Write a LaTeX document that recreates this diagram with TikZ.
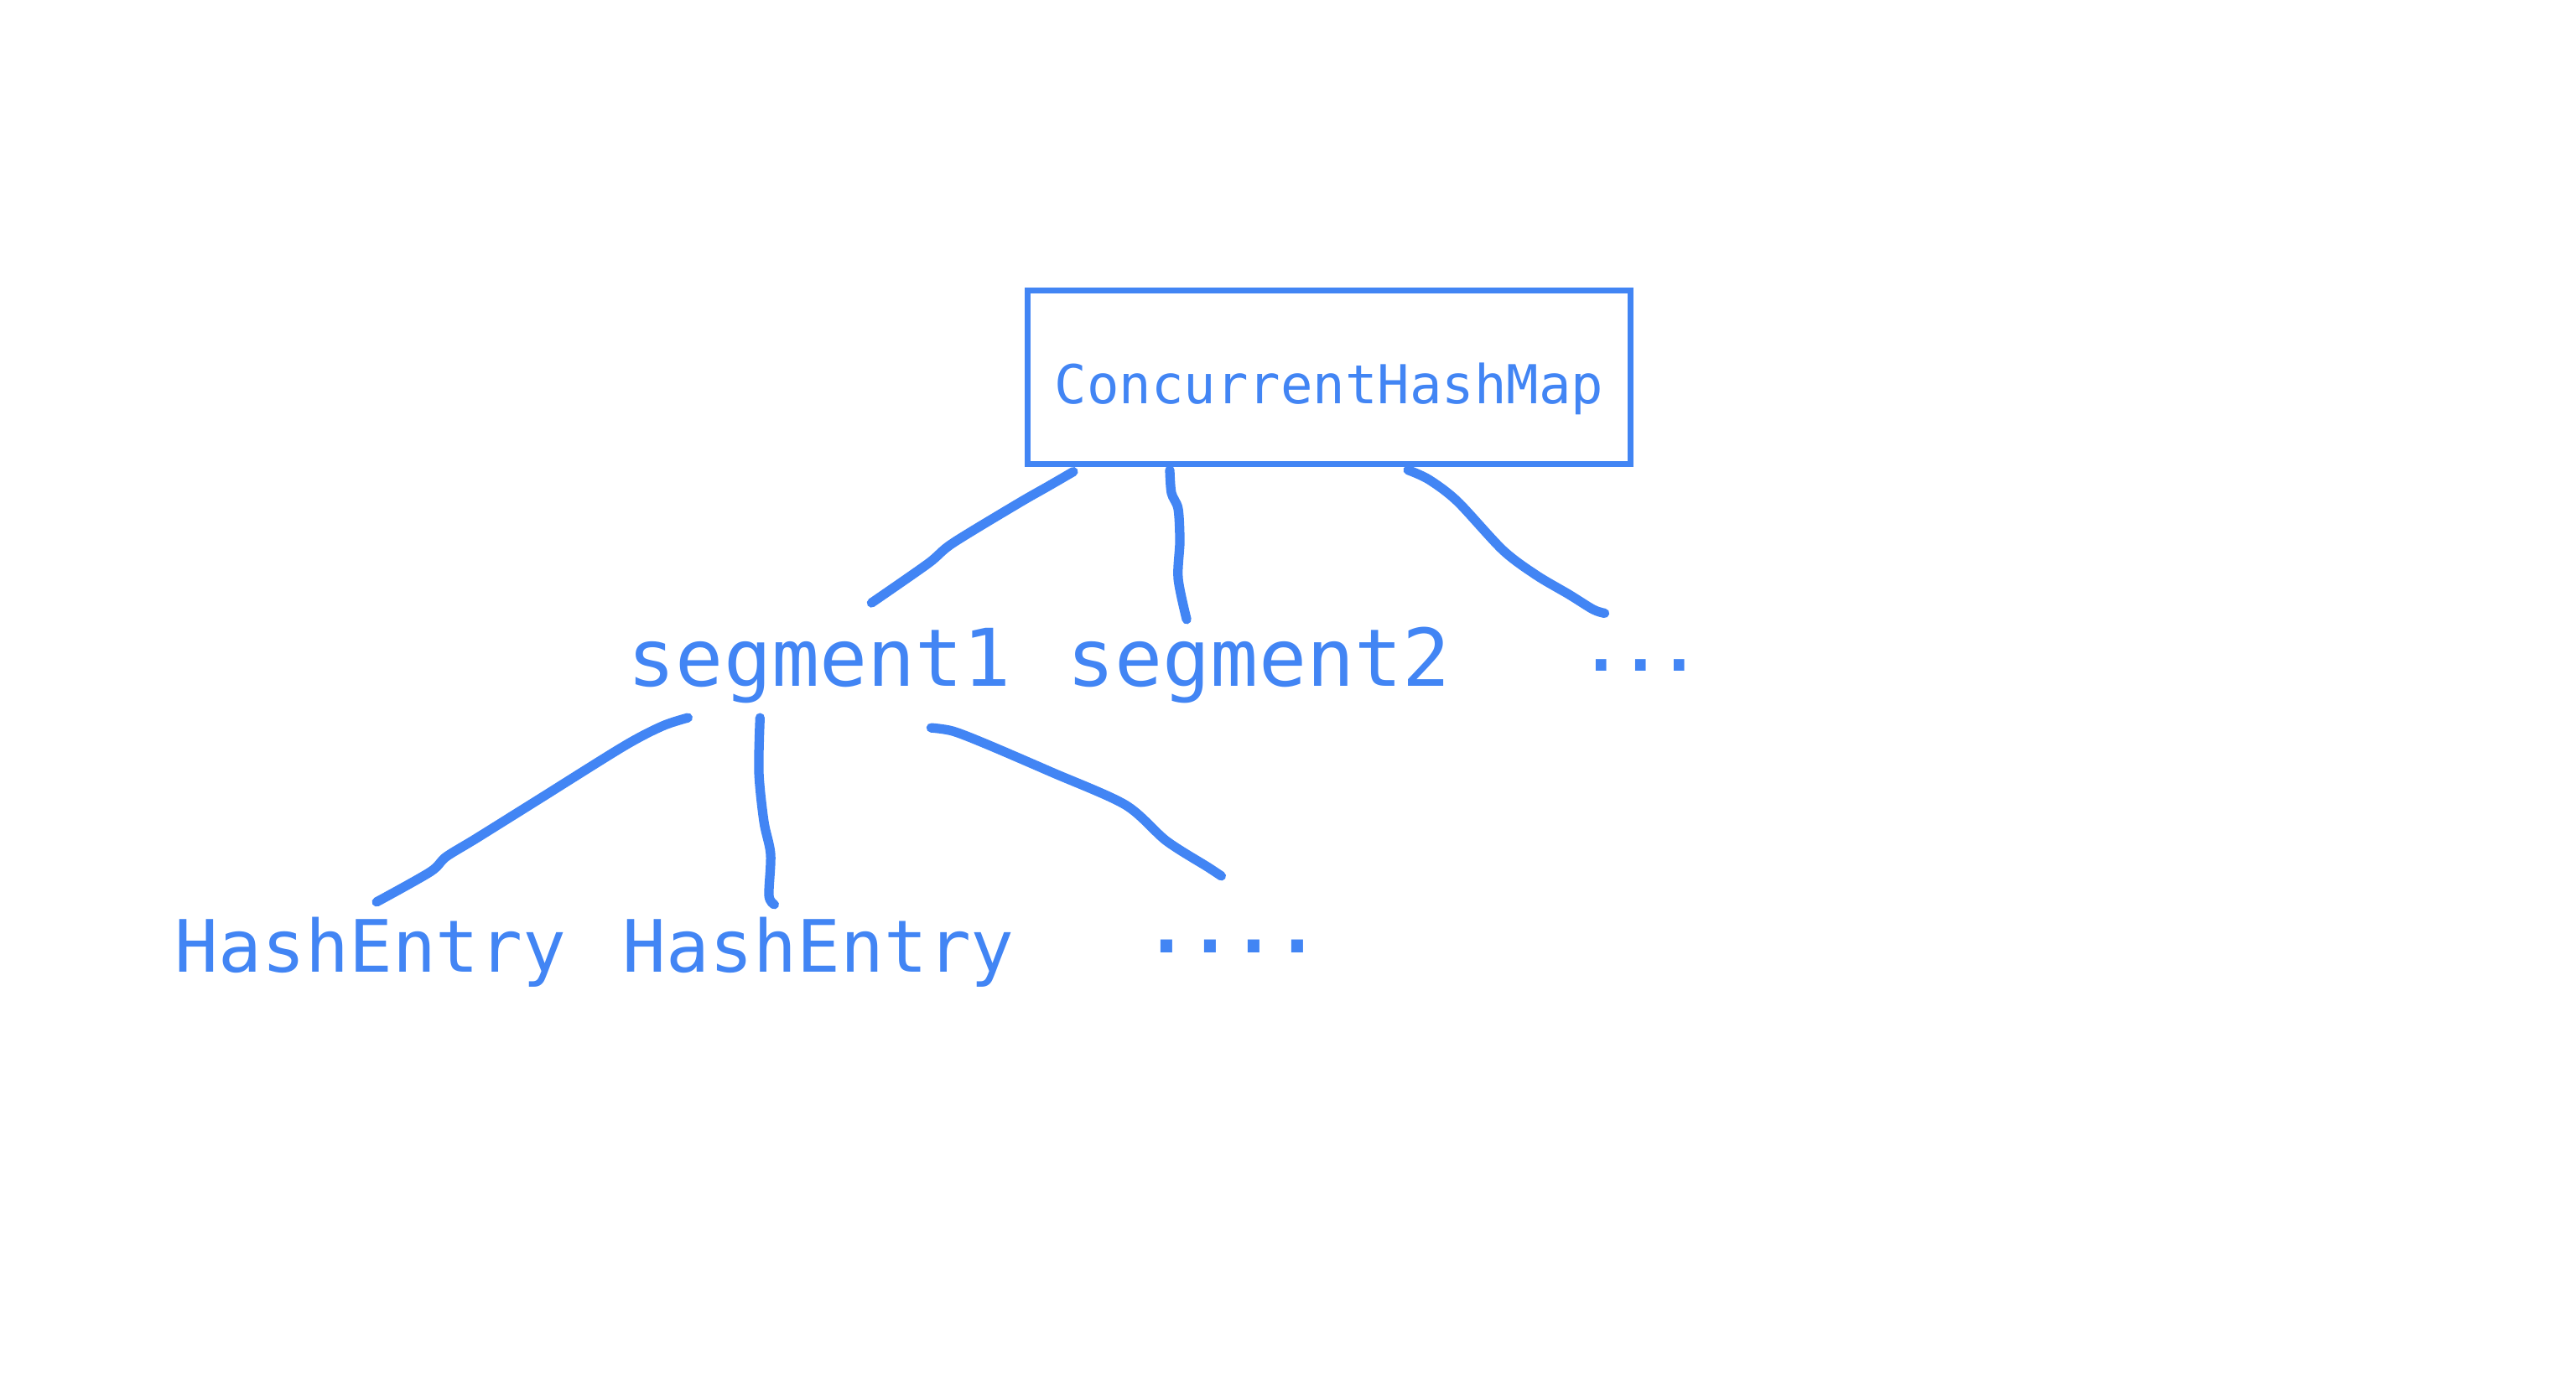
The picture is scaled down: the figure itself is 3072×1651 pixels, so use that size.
\documentclass[tikz,border=0pt]{standalone}
\usepackage{fontspec}
\setmonofont{DejaVu Sans Mono}
\usetikzlibrary{positioning,calc}
\definecolor{gblue}{HTML}{4285F4}
\tikzset{
  lbl/.style={text=gblue, inner sep=0pt, font=\ttfamily\fontsize{27}{30}\selectfont},
  entry/.style={lbl, font=\ttfamily\fontsize{24.5}{28}\selectfont},
  mapbox/.style={draw=gblue, line width=2pt, inner sep=0pt, text=gblue,
    minimum width=7.18cm, minimum height=2.06cm, text height=0.78cm, text depth=0.15cm,
    font=\ttfamily\fontsize{18.2}{20}\selectfont},
  wire/.style={draw=gblue, line width=3.2pt, line cap=round, line join=round},
}

\begin{document}
\begin{tikzpicture}[x=0.01cm, y=-0.01cm]
  \useasboundingbox (0,0) rectangle (3072,1651);

  % map box
  \node[mapbox] (map) at (1585,450) {ConcurrentHashMap};

  % segments
  \node[lbl, anchor=base west] (seg1) at (748,818) {segment1};
  \node[lbl, base right=0.65cm of seg1] (seg2) {segment2};
  \node[lbl, anchor=base west, font=\ttfamily\bfseries\fontsize{22}{24}\selectfont] (segdots) at (1886,800) {...};

  % entries
  \node[entry, anchor=base west] (e1) at (208,1159) {HashEntry};
  \node[entry, base right=0.66cm of e1] (e2) {HashEntry};
  \node[entry, anchor=base west, font=\ttfamily\bfseries\fontsize{24.5}{28}\selectfont] (edots) at (1365,1136) {....};

  % map to segments
  \draw[wire] plot[smooth, tension=0.5] coordinates {($(map.south)+(-305,6)$) (1250,580) (1215,600) (1136,648) (1107,672) ($(seg1.north)+(62,-29)$)};
  \draw[wire] plot[smooth, tension=0.5] coordinates {($(map.south)+(-190,4)$) (1397,588) (1405,607) (1407,646) (1405,690) ($(seg2.north)+(-86,-8)$)};
  \draw[wire] plot[smooth, tension=0.5] coordinates {($(map.south)+(94,4)$) (1704,572) (1738,598) (1792,656) (1832,686) (1871,709) (1900,727) ($(segdots.north)+(-43,-54)$)};

  % segment1 to entries
  \draw[wire] plot[smooth, tension=0.5] coordinates {($(seg1.south)+(-157,17)$) (790,866) (744,890) (640,955) (568,1000) (532,1022) (513,1040) ($(e1.north)+(7,-17)$)};
  \draw[wire] plot[smooth, tension=0.5] coordinates {($(seg1.south)+(-71,17)$) (905,921) (911,980) (919,1019) (917,1068) ($(e2.north)+(-53,-14)$)};
  \draw[wire] plot[smooth, tension=0.5] coordinates {($(seg1.south)+(133,29)$) (1136,872) (1175,887) (1254,921) (1342,960) (1391,1003) (1440,1034) ($(edots.north)+(-13,-75)$)};
\end{tikzpicture}
\end{document}
